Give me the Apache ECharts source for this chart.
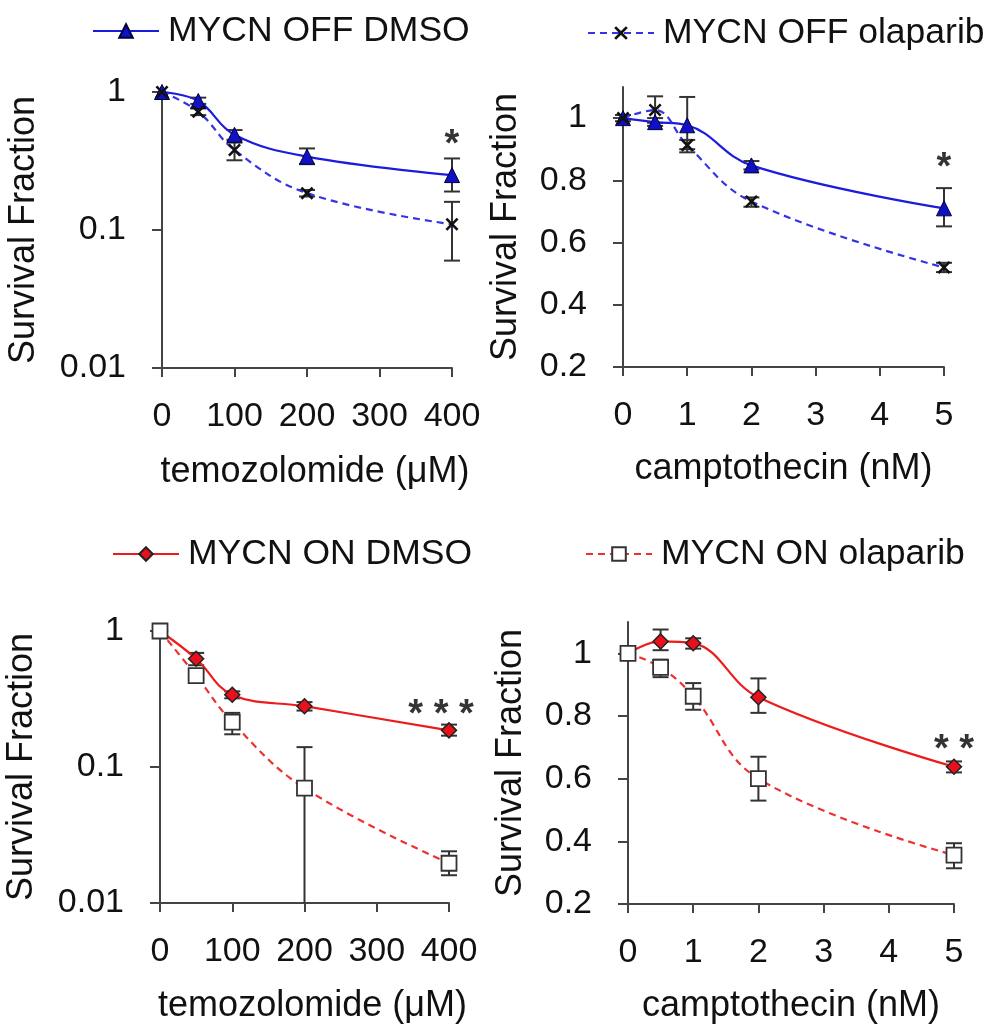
<!DOCTYPE html>
<html>
<head>
<meta charset="utf-8">
<script src="https://cdn.jsdelivr.net/npm/echarts@6/dist/echarts.min.js"></script>
<style>
html,body{margin:0;padding:0;background:#fff;}
#c{width:997px;height:1025px;}
</style>
</head>
<body>
<div id="c"></div>
<script>
// ---------------- data ----------------
const tmzX = [0, 50, 100, 200, 400];
const cptX = [0, 0.5, 1, 2, 5];

// MYCN OFF, temozolomide
const offDmsoTmz    = [1, 0.86, 0.49, 0.34, 0.25];
const offDmsoTmzLo  = [1, 0.82, 0.45, 0.30, 0.19];
const offDmsoTmzHi  = [1, 0.91, 0.53, 0.39, 0.33];
const offOlaTmz     = [1, 0.72, 0.38, 0.185, 0.11];
const offOlaTmzLo   = [1, 0.68, 0.32, 0.175, 0.06];
const offOlaTmzHi   = [1, 0.76, 0.43, 0.195, 0.16];

// MYCN OFF, camptothecin
const offDmsoCpt    = [1, 0.987, 0.977, 0.848, 0.71];
const offDmsoCptLo  = [1, 0.975, 0.89, 0.835, 0.652];
const offDmsoCptHi  = [1, 1.0, 1.068, 0.862, 0.775];
const offOlaCpt     = [1, 1.026, 0.913, 0.732, 0.52];
const offOlaCptLo   = [0.99, 0.985, 0.90, 0.715, 0.505];
const offOlaCptHi   = [1.01, 1.07, 0.93, 0.745, 0.535];

// MYCN ON, temozolomide
const onDmsoTmz     = [1, 0.625, 0.34, 0.28, 0.186];
const onDmsoTmzLo   = [1, 0.56, 0.32, 0.26, 0.17];
const onDmsoTmzHi   = [1, 0.69, 0.36, 0.30, 0.205];
const onOlaTmz      = [1, 0.47, 0.214, 0.07, 0.0196];
const onOlaTmzLo    = [1, 0.44, 0.174, 0, 0.016];
const onOlaTmzHi    = [1, 0.50, 0.25, 0.14, 0.024];

// MYCN ON, camptothecin
const onDmsoCpt     = [1, 1.038, 1.032, 0.86, 0.638];
const onDmsoCptLo   = [1, 1.01, 1.015, 0.81, 0.62];
const onDmsoCptHi   = [1, 1.076, 1.048, 0.92, 0.655];
const onOlaCpt      = [1, 0.955, 0.863, 0.60, 0.356];
const onOlaCptLo    = [1, 0.924, 0.82, 0.53, 0.314];
const onOlaCptHi    = [1, 0.98, 0.905, 0.67, 0.394];

// significance marks [x, y, text] per panel
const sigTmzOff = [400, 0.49, '*'];
const sigCptOff = [5, 0.874, '*'];
const sigTmzOn  = [389, 0.288, '* * *'];
const sigCptOn  = [5, 0.724, '* *'];

const tmzTicks = [0, 100, 200, 300, 400];
const cptTicks = [0, 1, 2, 3, 4, 5];
const linTicks = [0.2, 0.4, 0.6, 0.8, 1];

const names = ['MYCN OFF DMSO', 'MYCN OFF olaparib', 'MYCN ON DMSO', 'MYCN ON olaparib'];
const xNameTmz = 'temozolomide (\u03BCM)';
const xNameCpt = 'camptothecin (nM)';
const yName = 'Survival Fraction';

// ---------------- helpers ----------------
const FONT = 'Liberation Sans';
const AX = '#444';
const pts = (xs, ys) => xs.map((x, i) => [x, ys[i]]);
const errs = (xs, lo, hi) => xs.map((x, i) => [x, lo[i], hi[i]]);
const xPath = 'path://M1.4,0 L5,3.6 L8.6,0 L10,1.4 L6.4,5 L10,8.6 L8.6,10 L5,6.4 L1.4,10 L0,8.6 L3.6,5 L0,1.4 Z';

const styles = {
  'MYCN OFF DMSO':     {color: '#1c1cdc', type: 'solid',  symbol: 'triangle', size: 15, fill: '#1010c4', border: '#00003a', bw: 1},
  'MYCN OFF olaparib': {color: '#3434e4', type: [7, 5],   symbol: xPath,      size: 13, fill: '#111', border: '#111', bw: 0},
  'MYCN ON DMSO':      {color: '#ec1c1c', type: 'solid',  symbol: 'diamond',  size: 15, fill: '#e8101a', border: '#222', bw: 1.5},
  'MYCN ON olaparib':  {color: '#ee3030', type: [7, 5],   symbol: 'rect',     size: 15, fill: '#ffffff', border: '#333', bw: 1.8}
};

function lineSeries(name, gi, data) {
  const s = styles[name];
  return {
    name: name, type: 'line', xAxisIndex: gi, yAxisIndex: gi, data: data,
    smooth: 0.4, z: 3,
    symbol: s.symbol, symbolSize: s.size, showAllSymbol: true,
    lineStyle: {color: s.color, width: 2.2, type: s.type},
    itemStyle: {color: s.fill, borderColor: s.border, borderWidth: s.bw},
    emphasis: {disabled: true}
  };
}

function errSeries(gi, data) {
  return {
    type: 'custom', xAxisIndex: gi, yAxisIndex: gi, data: data, z: 2, silent: true,
    renderItem: function (params, api) {
      const x = api.value(0), lo = api.value(1), hi = api.value(2);
      if (Math.abs(hi - lo) < 1e-9) return null;
      const cs = params.coordSys;
      const pTop = api.coord([x, hi]);
      const clamped = lo <= 0;
      const yBot = clamped ? cs.y + cs.height : api.coord([x, lo])[1];
      const cx = pTop[0], w = 8;
      const st = {stroke: '#333', lineWidth: 2};
      const ch = [
        {type: 'line', shape: {x1: cx, y1: pTop[1], x2: cx, y2: yBot}, style: st},
        {type: 'line', shape: {x1: cx - w, y1: pTop[1], x2: cx + w, y2: pTop[1]}, style: st}
      ];
      if (!clamped) ch.push({type: 'line', shape: {x1: cx - w, y1: yBot, x2: cx + w, y2: yBot}, style: st});
      return {type: 'group', children: ch};
    }
  };
}

function sigSeries(gi, sig) {
  return {
    type: 'scatter', xAxisIndex: gi, yAxisIndex: gi, z: 5, silent: true,
    symbolSize: 0,
    data: [{value: [sig[0], sig[1]], name: sig[2]}],
    label: {show: true, formatter: '{b}', position: 'inside', offset: [0, 11],
            fontFamily: FONT, fontSize: 38, fontWeight: 'bold', color: '#000'}
  };
}

const grids = [
  {left: 162, top: 92,  width: 290, height: 276},
  {left: 623, top: 87,  width: 321, height: 280},
  {left: 160, top: 631, width: 289, height: 274},
  {left: 628, top: 622, width: 326, height: 282}
];

function xAxis(gi, isTmz) {
  return {
    type: 'value', gridIndex: gi, min: 0, max: isTmz ? 400 : 5, interval: isTmz ? 100 : 1,
    name: isTmz ? xNameTmz : xNameCpt, nameLocation: 'middle',
    nameGap: isTmz ? (gi === 0 ? 86 : 85) : 84,
    nameTextStyle: {fontFamily: FONT, fontSize: 36, color: '#111', padding: isTmz ? [0, 0, 0, 16] : 0},
    axisLine: {show: true, lineStyle: {color: AX, width: 2}},
    axisTick: {show: true, length: 9, lineStyle: {color: AX, width: 2},
               customValues: isTmz ? tmzTicks : cptTicks},
    axisLabel: {margin: 32, fontFamily: FONT, fontSize: 34, color: '#111',
                customValues: isTmz ? tmzTicks : cptTicks},
    splitLine: {show: false}
  };
}

function yAxis(gi, isLog) {
  const base = {
    gridIndex: gi, name: yName, nameLocation: 'middle',
    nameGap: isLog ? 120 : 99,
    nameTextStyle: {fontFamily: FONT, fontSize: 36, color: '#111'},
    axisLine: {show: true, lineStyle: {color: AX, width: 2}},
    axisTick: {show: true, length: 10, lineStyle: {color: AX, width: 2}},
    axisLabel: {margin: 36, fontFamily: FONT, fontSize: 34, color: '#111'},
    splitLine: {show: false}
  };
  if (isLog) {
    return Object.assign(base, {type: 'log', logBase: 10, min: 0.01, max: 1});
  }
  base.axisTick.customValues = linTicks;
  base.axisLabel.customValues = linTicks;
  return Object.assign(base, {type: 'value', min: 0.2, max: 1.1});
}

function legend(name, left, top) {
  return {
    data: [name], left: left, top: top, padding: 0, itemWidth: 66, itemHeight: 17,
    selectedMode: false,
    textStyle: {fontFamily: FONT, fontSize: 35.5, color: '#111', padding: [0, 0, 0, 4]}
  };
}

const option = {
  animation: false,
  backgroundColor: '#ffffff',
  legend: [
    legend(names[0], 92, 13),
    legend(names[1], 587, 15),
    legend(names[2], 112, 536),
    legend(names[3], 585, 536)
  ],
  grid: grids,
  xAxis: [xAxis(0, true), xAxis(1, false), xAxis(2, true), xAxis(3, false)],
  yAxis: [yAxis(0, true), yAxis(1, false), yAxis(2, true), yAxis(3, false)],
  series: [
    errSeries(0, errs(tmzX, offDmsoTmzLo, offDmsoTmzHi)),
    errSeries(0, errs(tmzX, offOlaTmzLo, offOlaTmzHi)),
    lineSeries(names[0], 0, pts(tmzX, offDmsoTmz)),
    lineSeries(names[1], 0, pts(tmzX, offOlaTmz)),
    sigSeries(0, sigTmzOff),

    errSeries(1, errs(cptX, offDmsoCptLo, offDmsoCptHi)),
    errSeries(1, errs(cptX, offOlaCptLo, offOlaCptHi)),
    lineSeries(names[0], 1, pts(cptX, offDmsoCpt)),
    lineSeries(names[1], 1, pts(cptX, offOlaCpt)),
    sigSeries(1, sigCptOff),

    errSeries(2, errs(tmzX, onDmsoTmzLo, onDmsoTmzHi)),
    errSeries(2, errs(tmzX, onOlaTmzLo, onOlaTmzHi)),
    lineSeries(names[2], 2, pts(tmzX, onDmsoTmz)),
    lineSeries(names[3], 2, pts(tmzX, onOlaTmz)),
    sigSeries(2, sigTmzOn),

    errSeries(3, errs(cptX, onDmsoCptLo, onDmsoCptHi)),
    errSeries(3, errs(cptX, onOlaCptLo, onOlaCptHi)),
    lineSeries(names[2], 3, pts(cptX, onDmsoCpt)),
    lineSeries(names[3], 3, pts(cptX, onOlaCpt)),
    sigSeries(3, sigCptOn)
  ]
};

const chart = echarts.init(document.getElementById('c'), null, {renderer: 'canvas'});
chart.setOption(option);
</script>
</body>
</html>
